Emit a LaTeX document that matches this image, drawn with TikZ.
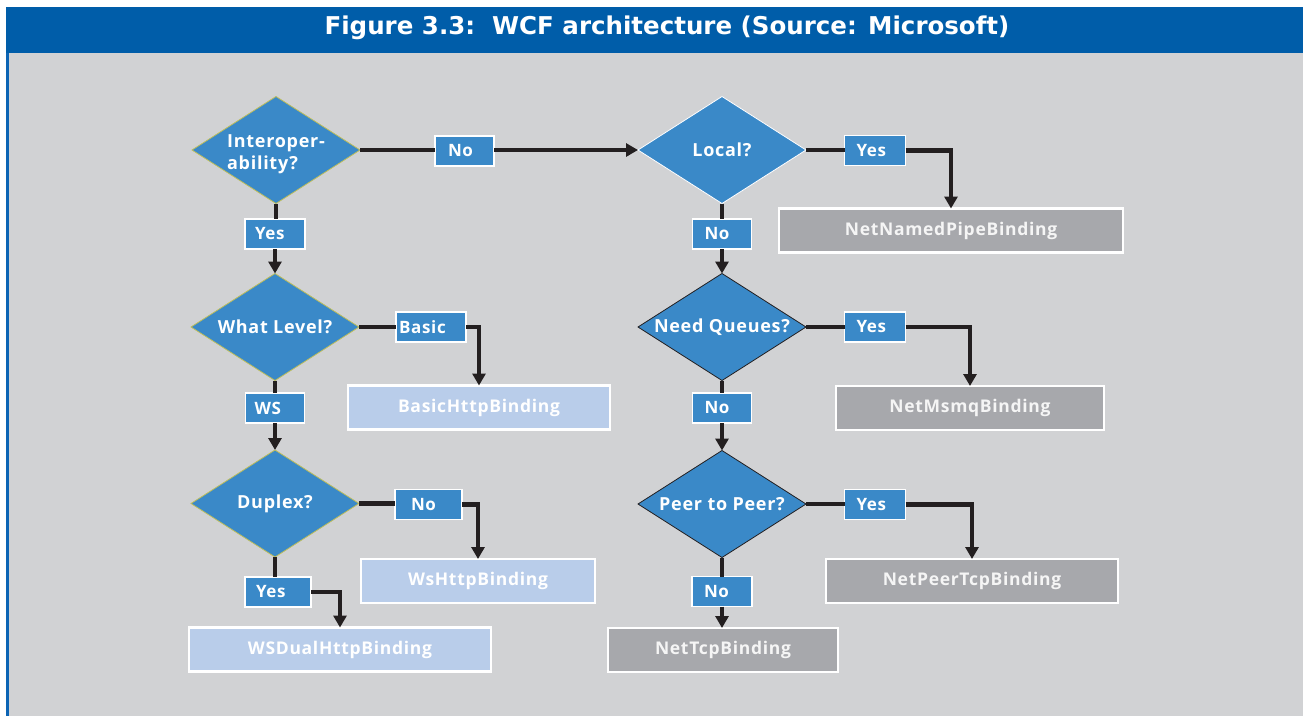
\documentclass[tikz,border=0pt]{standalone}
\usepackage{fontspec}
\setmainfont{Open Sans}[LetterSpace=4]
\newfontfamily\titlefont{DejaVu Sans}
\usetikzlibrary{shapes.geometric,arrows.meta}

\definecolor{hdrblue}{RGB}{0,93,169}
\definecolor{edgeblue}{RGB}{12,100,180}
\definecolor{bggray}{RGB}{209,210,212}
\definecolor{dblue}{RGB}{58,137,200}
\definecolor{lightblue}{RGB}{185,205,234}
\definecolor{bindgray}{RGB}{167,168,172}
\definecolor{ink}{RGB}{35,31,32}
\definecolor{olive}{RGB}{190,190,90}

\begin{document}
\begin{tikzpicture}[x=1pt,y=-1pt,
  decision/.style={diamond, fill=dblue, draw=olive, line width=0.8pt,
    minimum width=168pt, minimum height=107pt, inner sep=0pt, outer sep=0pt},
  dtext/.style={inner sep=0pt, align=left, text=white,
    font=\bfseries\fontsize{18}{22}\selectfont},
  lbl/.style={rectangle, fill=dblue, draw=white, line width=1.5pt,
    minimum height=30pt, inner sep=0pt, outer sep=0pt, align=left,
    text=white, font=\bfseries\fontsize{17}{20}\selectfont},
  lightbind/.style={rectangle, fill=lightblue, draw=white, line width=2.5pt,
    minimum height=44pt, inner sep=0pt, outer sep=0pt, text=white,
    font=\bfseries\fontsize{17.5}{20}\selectfont},
  graybind/.style={lightbind, fill=bindgray, text=white!96!black},
  link/.style={draw=ink, line width=4.5pt, line join=miter},
  arr/.style={link, -{Triangle[width=13pt,length=12pt]}}
]
\useasboundingbox (0,0) rectangle (1303,716);

% frame: header band, gray panel, left rule
\fill[white] (0,0) rectangle (1303,716);
\fill[bggray] (6,53) rectangle (1303,716);
\fill[hdrblue] (6,7) rectangle (1303,53);
\fill[edgeblue] (6,53) rectangle (9,716);
\node[text=white, font=\titlefont\bfseries\fontsize{24.5}{28}\selectfont] (title) at (667,28)
  {Figure 3.3:\ \ WCF architecture (Source: Microsoft)};

% decision diamonds (fixed size, text set on top)
\node[decision] (interop) at (276,150) {};
\node[dtext] (interop-t) at (276,154) {Interoper-\\ability?};
\node[decision] (what) at (275,327) {};
\node[dtext] (what-t) at (what) {What Level?};
\node[decision] (duplex) at (275,503.5) {};
\node[dtext] (duplex-t) at (duplex) {Duplex?};
\node[decision, draw=white] (local) at (722,150) {};
\node[dtext] (local-t) at (local) {Local?};
\node[decision, draw=ink] (queues) at (722,327) {};
\node[dtext] (queues-t) at (queues) {Need Queues?};
\node[decision, draw=ink] (peer) at (722,504) {};
\node[dtext] (peer-t) at (peer) {Peer to Peer?};

% answer labels and bindings, left column
\node[lbl, minimum width=60pt, text width=40pt] (yes1) at (275,234) {Yes};
\node[lbl, minimum width=70pt, text width=64pt] (basic) at (431,327) {Basic};
\node[lightbind, minimum width=262pt] (basicb) at (479,407.5) {BasicHttpBinding};
\node[lbl, minimum width=59pt, text width=41pt] (ws) at (275,408) {WS};
\node[lbl, minimum width=67pt, text width=35pt] (no2) at (428.5,504.5) {No};
\node[lightbind, minimum width=234pt] (wshttp) at (478,581) {WsHttpBinding};
\node[lbl, minimum width=66pt, text width=44pt] (yes2) at (278,592) {Yes};
\node[lightbind, minimum width=302pt] (wsdual) at (340,649.5) {WSDualHttpBinding};

% answer labels and bindings, right column
\node[lbl, minimum width=59pt, text width=33pt] (no1) at (464.5,151) {No};
\node[lbl, minimum width=61pt, text width=37pt] (yes3) at (875,150.5) {Yes};
\node[graybind, minimum width=344pt] (pipe) at (951,230.5) {NetNamedPipeBinding};
\node[lbl, minimum width=59pt, text width=35pt] (no3) at (722,234) {No};
\node[lbl, minimum width=61pt, text width=37pt] (yes4) at (875,327) {Yes};
\node[graybind, minimum width=268pt] (msmq) at (970,408) {NetMsmqBinding};
\node[lbl, minimum width=59pt, text width=35pt] (no4) at (722,408) {No};
\node[lbl, minimum width=61pt, text width=37pt] (yes5) at (875,504.5) {Yes};
\node[graybind, minimum width=292pt] (peertcp) at (972,581) {NetPeerTcpBinding};
\node[lbl, minimum width=60pt, text width=36pt] (no5) at (722,591.5) {No};
\node[graybind, minimum width=230pt] (tcp) at (723,650) {NetTcpBinding};

% connectors, left column
\draw[link] (interop.east) -- (interop.east -| no1.west);
\draw[arr] (no1.east |- local.west) -- (local.west);
\draw[link] (interop.south) -- (interop.south |- yes1.north);
\draw[arr] (yes1.south) -- (what.north);
\draw[link] (what.east) -- (basic.west);
\draw[arr] (basic.east) -| (basicb.north);
\draw[link] (what.south) -- (ws.north);
\draw[arr] (ws.south) -- (duplex.north);
\draw[link] (duplex.east) -- (duplex.east -| no2.west);
\draw[arr] (no2.east) -| (wshttp.north);
\draw[link] (duplex.south) -- (duplex.south |- yes2.north);
\draw[arr] (yes2.east) -| (wsdual.north);

% connectors, right column
\draw[link] (local.east) -- (local.east -| yes3.west);
\draw[arr] (yes3.east) -| (pipe.north);
\draw[link] (local.south) -- (no3.north);
\draw[arr] (no3.south) -- (queues.north);
\draw[link] (queues.east) -- (yes4.west);
\draw[arr] (yes4.east) -| (msmq.north);
\draw[link] (queues.south) -- (no4.north);
\draw[arr] (no4.south) -- (peer.north);
\draw[link] (peer.east) -- (peer.east -| yes5.west);
\draw[arr] (yes5.east) -| (peertcp.north);
\draw[link] (peer.south) -- (no5.north);
\draw[arr] (no5.south) -- (no5.south |- tcp.north);
\end{tikzpicture}
\end{document}
